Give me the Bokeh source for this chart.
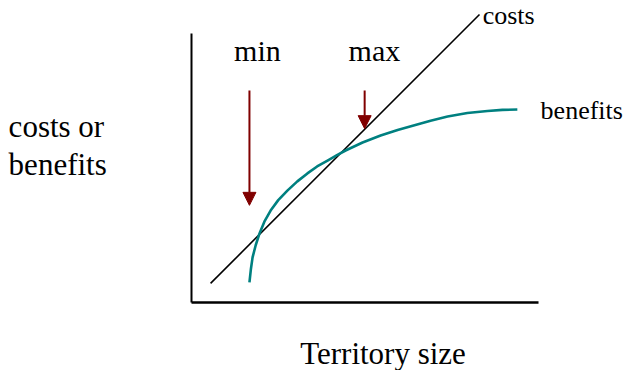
from bokeh.plotting import figure
from bokeh.models import Range1d, Arrow, NormalHead
from bokeh.core.properties import value
from bokeh.embed import file_html
from bokeh.resources import INLINE

# Conceptual axes (territory size vs costs/benefits)
axis_x_len = 10.0
axis_y_len = 7.75

# Costs: straight line
costs_x = [0.55, 8.30]
costs_y = [0.55, 8.30]

# Benefits: saturating curve
benefits_x = [1.67, 1.71, 1.76, 1.85, 1.96, 2.10, 2.28, 2.50, 2.77, 3.05, 3.34, 3.62, 3.92, 4.18, 4.44,
              4.93, 5.45, 5.94, 6.40, 6.89, 7.38, 7.95, 8.53, 8.96, 9.39]
benefits_y = [0.58, 0.95, 1.30, 1.65, 1.99, 2.33, 2.65, 2.95, 3.23, 3.49, 3.72, 3.92, 4.09, 4.24, 4.38,
              4.61, 4.81, 4.97, 5.10, 5.24, 5.36, 5.46, 5.52, 5.55, 5.56]

# Arrows marking min and max territory size
arrow_x = [1.67, 4.99]
arrow_y_start = [6.11, 6.11]
arrow_y_end = [2.80, 5.01]

arrow_labels = ["min", "max"]
arrow_label_x = [1.90, 5.27]
arrow_label_y = [6.97, 6.97]

curve_labels = ["costs", "benefits"]
curve_label_x = [8.39, 10.06]
curve_label_y = [8.04, 5.30]

y_title_lines = ["costs or", "benefits"]
y_title_x = [-5.27, -5.27]
y_title_y = [4.81, 3.72]

x_title = ["Territory size"]
x_title_x = [5.52]
x_title_y = [-1.73]

FONT = value("Liberation Serif")

p = figure(width=624, height=370, output_backend="svg", toolbar_location=None,
           x_range=Range1d(-5.504, 12.478), y_range=Range1d(-1.960, 8.703),
           x_axis_location=None, y_axis_location=None, min_border=0,
           outline_line_color=None)
p.grid.visible = False
p.background_fill_color = "white"
p.border_fill_color = "white"

# axis lines
p.line([0, 0], [0, axis_y_len], line_color="black", line_width=2)
p.line([0, axis_x_len], [0, 0], line_color="black", line_width=2.5)

# curves
p.line(costs_x, costs_y, line_color="black", line_width=1.6)
p.line(benefits_x, benefits_y, line_color="#008080", line_width=2.6, line_join="round")

# arrows
for xa, ys, ye in zip(arrow_x, arrow_y_start, arrow_y_end):
    p.add_layout(Arrow(end=NormalHead(size=13, fill_color="#800000", line_color="#800000", line_width=1),
                       x_start=xa, y_start=ys, x_end=xa, y_end=ye,
                       line_color="#800000", line_width=2))

p.text(x=arrow_label_x, y=arrow_label_y, text=arrow_labels, text_font=FONT, y_offset=-10,
       text_font_size=value("30px"), text_align="center", text_baseline="alphabetic", text_color="black")
p.text(x=curve_label_x, y=curve_label_y, text=curve_labels, text_font=FONT, y_offset=-8,
       text_font_size=value("26px"), text_align="left", text_baseline="alphabetic", text_color="black")
p.text(x=y_title_x, y=y_title_y, text=y_title_lines, text_font=FONT, y_offset=-9,
       text_font_size=value("31px"), text_align="left", text_baseline="alphabetic", text_color="black")
p.text(x=x_title_x, y=x_title_y, text=x_title, text_font=FONT, y_offset=-9,
       text_font_size=value("31px"), text_align="center", text_baseline="alphabetic", text_color="black")

open("out.html", "w").write(file_html(p, INLINE))
